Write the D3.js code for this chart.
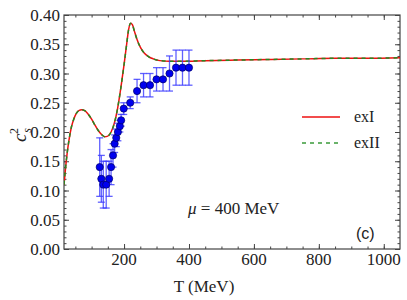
<html>
<head>
<script src="https://d3js.org/d3.v7.min.js"></script>
<style>
  body { margin: 0; background: #fff; }
  text { font-family: "Liberation Serif", "DejaVu Serif", serif; fill: #222; }
</style>
</head>
<body>
<div id="chart"></div>
<script>
// model curve (exI and exII coincide)
var curveT = [15, 20, 25, 30, 38, 45, 53, 62, 69, 80, 90, 100, 110, 120, 130, 140, 150, 160, 170, 180, 190, 200, 208, 214, 220, 226, 232, 240, 250, 262, 275, 290, 310, 340, 380, 450, 550, 650, 750, 850, 950, 1050];
var curveC = [0.11, 0.14, 0.165, 0.185, 0.209, 0.222, 0.232, 0.237, 0.238, 0.236, 0.23, 0.222, 0.212, 0.203, 0.196, 0.192, 0.193, 0.2, 0.215, 0.24, 0.275, 0.315, 0.35, 0.375, 0.386, 0.383, 0.372, 0.358, 0.345, 0.335, 0.329, 0.325, 0.322, 0.321, 0.321, 0.322, 0.323, 0.324, 0.325, 0.326, 0.326, 0.327];

// lattice points
var dataT = [125, 130, 136, 145, 154, 160, 166, 171, 176, 181, 187, 191, 199, 219, 240, 260, 280, 300, 320, 340, 360, 380, 400];
var dataC = [0.14, 0.12, 0.11, 0.11, 0.12, 0.14, 0.16, 0.18, 0.19, 0.20, 0.21, 0.22, 0.24, 0.25, 0.27, 0.28, 0.28, 0.29, 0.29, 0.30, 0.31, 0.31, 0.31];
var dataErr = [0.05, 0.04, 0.04, 0.04, 0.03, 0.03, 0.02, 0.015, 0.015, 0.015, 0.01, 0.01, 0.01, 0.01, 0.02, 0.02, 0.02, 0.02, 0.02, 0.03, 0.03, 0.03, 0.03];

var xTicks = [200, 400, 600, 800, 1000];
var yTicks = [0, 0.05, 0.10, 0.15, 0.20, 0.25, 0.30, 0.35, 0.40];
var legendNames = ["exI", "exII"];

var W = 407, H = 300;
var pL = 64, pR = 400, pT = 15, pB = 249;

var svg = d3.select("#chart").append("svg")
    .attr("width", W)
    .attr("height", H);

var x = d3.scaleLinear().domain([15, 1050]).range([pL, pR]);
var y = d3.scaleLinear().domain([0, 0.4]).range([pB, pT]);

svg.append("clipPath").attr("id", "clip")
    .append("rect").attr("x", pL).attr("y", pT)
    .attr("width", pR - pL).attr("height", pB - pT);

// frame ticks (inward, all four sides)
var xMinor = d3.range(50, 1050, 50);
var yMinor = d3.range(0, 0.401, 0.01);

function tickAxis(axis, major, minor, transform) {
    var g = svg.append("g").attr("transform", transform);
    g.call(axis.tickValues(minor).tickSize(2.5).tickFormat(""));
    g.select(".domain").remove();
    var g2 = svg.append("g").attr("transform", transform);
    g2.call(axis.tickValues(major).tickSize(5).tickFormat(""));
    g2.select(".domain").remove();
    svg.selectAll("g .tick line").attr("stroke", "#444");
}
tickAxis(d3.axisTop(x), xTicks, xMinor, "translate(0," + pB + ")");
tickAxis(d3.axisBottom(x), xTicks, xMinor, "translate(0," + pT + ")");
tickAxis(d3.axisRight(y), yTicks, yMinor, "translate(" + pL + ",0)");
tickAxis(d3.axisLeft(y), yTicks, yMinor, "translate(" + pR + ",0)");

svg.append("rect")
    .attr("x", pL).attr("y", pT)
    .attr("width", pR - pL).attr("height", pB - pT)
    .attr("fill", "none").attr("stroke", "#444").attr("stroke-width", 1.2);

// tick labels
svg.append("g").selectAll("text").data(xTicks).enter().append("text")
    .attr("x", function(d) { return x(d); })
    .attr("y", 265)
    .attr("text-anchor", "middle")
    .style("font-size", "17px")
    .text(function(d) { return d; });

svg.append("g").selectAll("text").data(yTicks).enter().append("text")
    .attr("x", 60)
    .attr("y", function(d) { return y(d) + 6; })
    .attr("text-anchor", "end")
    .style("font-size", "17px")
    .text(function(d) { return d3.format(".2f")(d); });

// axis titles
svg.append("text")
    .attr("x", 204).attr("y", 292)
    .attr("text-anchor", "middle")
    .style("font-size", "17px")
    .text("T (MeV)");

var yt = svg.append("text")
    .attr("transform", "translate(26,135) rotate(-90)")
    .attr("text-anchor", "middle")
    .style("font-size", "19px");
yt.append("tspan").style("font-style", "italic").text("c");
yt.append("tspan").attr("dy", 5).attr("dx", 1).style("font-size", "12px").style("font-style", "italic").text("s");
yt.append("tspan").attr("dy", -13).attr("dx", -6).style("font-size", "12px").text("2");

// curves
var pts = curveT.map(function(t, i) { return [t, curveC[i]]; });
var line = d3.line()
    .x(function(d) { return x(d[0]); })
    .y(function(d) { return y(d[1]); })
    .curve(d3.curveMonotoneX);

var plot = svg.append("g").attr("clip-path", "url(#clip)");
plot.append("path").attr("d", line(pts))
    .attr("fill", "none").attr("stroke", "#ee1111").attr("stroke-width", 1.5);
plot.append("path").attr("d", line(pts))
    .attr("fill", "none").attr("stroke", "#228b22").attr("stroke-width", 1.5)
    .attr("stroke-dasharray", "4,4");

// error bars and points
var pd = dataT.map(function(t, i) { return { t: t, c: dataC[i], e: dataErr[i] }; });
var eb = plot.append("g").attr("stroke", "#3a3aff").attr("stroke-opacity", 0.8).attr("stroke-width", 1.3);
eb.selectAll("line.v").data(pd).enter().append("line")
    .attr("x1", function(d) { return x(d.t); }).attr("x2", function(d) { return x(d.t); })
    .attr("y1", function(d) { return y(d.c - d.e); }).attr("y2", function(d) { return y(d.c + d.e); });
eb.selectAll("line.t").data(pd).enter().append("line")
    .attr("x1", function(d) { return x(d.t) - 3.5; }).attr("x2", function(d) { return x(d.t) + 3.5; })
    .attr("y1", function(d) { return y(d.c + d.e); }).attr("y2", function(d) { return y(d.c + d.e); });
eb.selectAll("line.b").data(pd).enter().append("line")
    .attr("x1", function(d) { return x(d.t) - 3.5; }).attr("x2", function(d) { return x(d.t) + 3.5; })
    .attr("y1", function(d) { return y(d.c - d.e); }).attr("y2", function(d) { return y(d.c - d.e); });

plot.append("g").selectAll("circle").data(pd).enter().append("circle")
    .attr("cx", function(d) { return x(d.t); })
    .attr("cy", function(d) { return y(d.c); })
    .attr("r", 3.6)
    .attr("fill", "#0000ee")
    .attr("stroke", "#000066").attr("stroke-width", 0.7);

// legend
var lg = svg.append("g");
lg.append("line").attr("x1", 302).attr("x2", 340).attr("y1", 117).attr("y2", 117)
    .attr("stroke", "#ee1111").attr("stroke-width", 1.3);
lg.append("line").attr("x1", 302).attr("x2", 340).attr("y1", 143).attr("y2", 143)
    .attr("stroke", "#3a9a3a").attr("stroke-width", 1.3).attr("stroke-dasharray", "4,4");
lg.selectAll("text").data(legendNames).enter().append("text")
    .attr("x", 354)
    .attr("y", function(d, i) { return 122 + i * 26; })
    .style("font-size", "16px")
    .text(function(d) { return d; });

// annotations
var mu = svg.append("text").attr("x", 188).attr("y", 214).style("font-size", "17px");
mu.append("tspan").style("font-style", "italic").text("μ");
mu.append("tspan").text(" = 400 MeV");

svg.append("text")
    .attr("x", 356).attr("y", 239)
    .style("font-family", "Liberation Sans, Arial, sans-serif")
    .style("font-size", "16px")
    .text("(c)");
</script>
</body>
</html>
